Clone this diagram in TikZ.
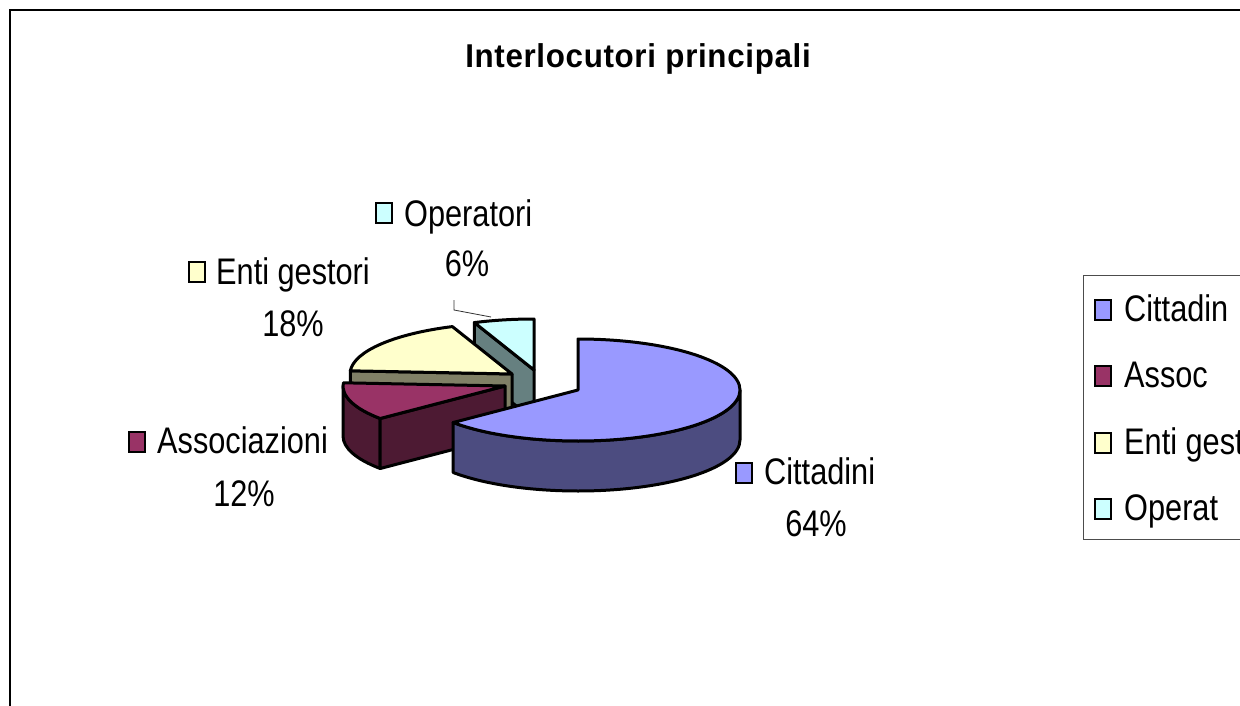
\documentclass[tikz,border=0pt]{standalone}
\usepackage{fontspec}
\setmainfont{Liberation Sans}
\newfontfamily\lblfont{Liberation Sans}[FakeStretch=0.83]
\newfontfamily\ttlfont{Liberation Sans}[FakeStretch=0.95,LetterSpace=2]
\usetikzlibrary{calc}
\definecolor{citT}{HTML}{9999FF}
\definecolor{citS}{HTML}{4C4C80}
\definecolor{assT}{HTML}{993366}
\definecolor{assS}{HTML}{4D1A33}
\definecolor{entT}{HTML}{FFFFCC}
\definecolor{entS}{HTML}{808066}
\definecolor{opeT}{HTML}{CCFFFF}
\definecolor{opeS}{HTML}{668080}
\tikzset{
  slice/.style={draw=black,line width=3pt,line join=round},
  lbl/.style={inner sep=0pt,font=\lblfont\fontsize{37}{44}\selectfont},
  sq/.style={draw=black,line width=2pt,minimum width=16pt,minimum height=20pt,inner sep=0pt},
  frameline/.style={draw=black,line width=1.5pt},
}
\newcommand{\RX}{162}
\newcommand{\RY}{51}
\newcommand{\DEP}{50}
\begin{document}
\begin{tikzpicture}[x=1pt,y=-1pt]
\useasboundingbox (0,0) rectangle (1240,706);
\fill[white] (0,0) rectangle (1240,706);
% chart frame
\draw[frameline] (10,720) -- (10,10) -- (1250,10);
% title
\node[inner sep=0pt,anchor=base,font=\ttlfont\bfseries\fontsize{33}{40}\selectfont] (title) at (638,68) {Interlocutori principali};

% apexes
\coordinate (O) at (534,370);
\coordinate (E) at (512,374);
\coordinate (A) at (505,386);
\coordinate (C) at (578,390);

% Operatori
\draw[slice,fill=opeS] (O) -- ($(O)+({\RX*cos(111.6)},{-\RY*sin(111.6)})$) -- ++(0,\DEP) -- ($(O)+(0,\DEP)$) -- cycle;
\draw[slice,fill=opeT] (O) -- ($(O)+(0,-\RY)$) arc[start angle=90,end angle=111.6,x radius=\RX pt,y radius=\RY pt] -- cycle;

% Enti gestori
\draw[slice,fill=entS] (E) -- ($(E)+({\RX*cos(176.4)},{-\RY*sin(176.4)})$) -- ++(0,\DEP) -- ($(E)+(0,\DEP)$) -- cycle;
\draw[slice,fill=entT] (E) -- ($(E)+({\RX*cos(111.6)},{-\RY*sin(111.6)})$) arc[start angle=111.6,end angle=176.4,x radius=\RX pt,y radius=\RY pt] -- cycle;

% Associazioni
\draw[slice,fill=assS] ($(A)+(-\RX,0)$) arc[start angle=180,end angle=219.6,x radius=\RX pt,y radius=\RY pt] -- ++(0,\DEP) arc[start angle=219.6,end angle=180,x radius=\RX pt,y radius=\RY pt] -- cycle;
\draw[slice,fill=assS] (A) -- ($(A)+({\RX*cos(219.6)},{-\RY*sin(219.6)})$) -- ++(0,\DEP) -- ($(A)+(0,\DEP)$) -- cycle;
\draw[slice,fill=assT] (A) -- ($(A)+({\RX*cos(176.4)},{-\RY*sin(176.4)})$) arc[start angle=176.4,end angle=219.6,x radius=\RX pt,y radius=\RY pt] -- cycle;

% Cittadini
\draw[slice,fill=citS] ($(C)+({\RX*cos(219.6)},{-\RY*sin(219.6)})$) arc[start angle=219.6,end angle=360,x radius=\RX pt,y radius=\RY pt] -- ++(0,\DEP) arc[start angle=360,end angle=219.6,x radius=\RX pt,y radius=\RY pt] -- cycle;
\draw[slice,fill=citT] (C) -- ($(C)+({\RX*cos(-140.4)},{-\RY*sin(-140.4)})$) arc[start angle=-140.4,end angle=90,x radius=\RX pt,y radius=\RY pt] -- cycle;

% data labels
\node[sq,fill=opeT] (sqO) at (384,213) {};
\node[lbl,anchor=base west] (tO) at (404,226) {Operatori};
\node[lbl,anchor=base] (pO) at (467,276) {6\%};
\node[sq,fill=entT] (sqE) at (197,272) {};
\node[lbl,anchor=base west] (tE) at (216,284) {Enti gestori};
\node[lbl,anchor=base] (pE) at (293,336) {18\%};
\node[sq,fill=assT] (sqA) at (137,442) {};
\node[lbl,anchor=base west] (tA) at (157,453) {Associazioni};
\node[lbl,anchor=base] (pA) at (244,506) {12\%};
\node[sq,fill=citT] (sqC) at (744,473) {};
\node[lbl,anchor=base west] (tC) at (764,484) {Cittadini};
\node[lbl,anchor=base] (pC) at (816,536) {64\%};

% leader line
\coordinate (l1) at (454,300);
\coordinate (l2) at (454,310);
\coordinate (l3) at (491,317);
\draw[line width=0.8pt,black!80] (l1) -- (l2) -- (l3);

% legend
\draw[line width=1pt,black!70] (1260,275) -- (1083,275) -- (1083,539) -- (1260,539);
\node[sq,fill=citT] (lg1) at (1103,310) {};
\node[lbl,anchor=base west] (lt1) at (1124,321) {Cittadin};
\node[sq,fill=assT] (lg2) at (1103,376) {};
\node[lbl,anchor=base west] (lt2) at (1124,387) {Assoc};
\node[sq,fill=entT] (lg3) at (1103,443) {};
\node[lbl,anchor=base west] (lt3) at (1124,454) {Enti gest};
\node[sq,fill=opeT] (lg4) at (1103,509) {};
\node[lbl,anchor=base west] (lt4) at (1124,520) {Operat};
\end{tikzpicture}
\end{document}
